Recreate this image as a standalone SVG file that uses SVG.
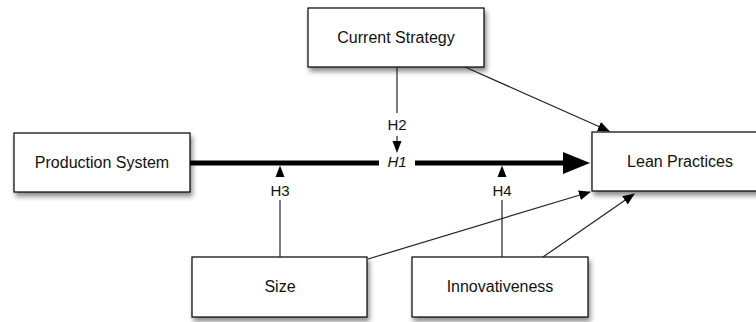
<svg xmlns="http://www.w3.org/2000/svg" width="756" height="322" viewBox="0 0 756 322">
<style>
.box{fill:#fff;stroke:#000;stroke-width:1.2;filter:url(#sh)}
.lbl{font-family:"Liberation Sans",Arial,sans-serif;font-size:16px;fill:#111;text-anchor:middle}
.h{font-family:"Liberation Sans",Arial,sans-serif;font-size:15px;fill:#111;text-anchor:middle}
.thin{stroke:#222;stroke-width:1.2;fill:none}
.head{fill:#000}
</style>
<defs>
<filter id="sh" x="-10%" y="-20%" width="130%" height="160%">
<feDropShadow dx="2" dy="4" stdDeviation="2.5" flood-color="#000" flood-opacity="0.45"/>
</filter>
<marker id="ah" markerWidth="12" markerHeight="10" refX="11" refY="5" orient="auto" markerUnits="userSpaceOnUse">
<path d="M0,0 L12,5 L0,10 Z" fill="#000"/>
</marker>
</defs>
<g id="production-system">
<rect class="box" x="14" y="133" width="176" height="59"/>
<text class="lbl" x="102" y="168">Production System</text>
</g>
<g id="current-strategy">
<rect class="box" x="308" y="8" width="176" height="59"/>
<text class="lbl" x="396" y="43">Current Strategy</text>
</g>
<g id="lean-practices">
<rect class="box" x="592" y="132" width="176" height="59"/>
<text class="lbl" x="680" y="167">Lean Practices</text>
</g>
<g id="size">
<rect class="box" x="192" y="257" width="175" height="60"/>
<text class="lbl" x="280" y="292">Size</text>
</g>
<g id="innovativeness">
<rect class="box" x="412" y="257" width="176" height="60"/>
<text class="lbl" x="500" y="292">Innovativeness</text>
</g>
<g id="connectors">
<line x1="190" y1="163" x2="379" y2="163" stroke="#000" stroke-width="5"/>
<line x1="415" y1="163" x2="566" y2="163" stroke="#000" stroke-width="5"/>
<path class="head" d="M563,152 L590,163 L563,174 Z"/>
<text class="h" x="397" y="167" font-style="italic">H1</text>
<line class="thin" x1="397" y1="67" x2="397" y2="113"/>
<text class="h" x="397" y="130">H2</text>
<line class="thin" x1="397" y1="136" x2="397" y2="142"/>
<path class="head" d="M392.5,141 L401.5,141 L397,153 Z"/>
<line class="thin" x1="280" y1="257" x2="280" y2="200"/>
<text class="h" x="280" y="196">H3</text>
<path class="head" d="M275.5,177 L284.5,177 L280,165.5 Z"/>
<line class="thin" x1="502" y1="257" x2="502" y2="200"/>
<text class="h" x="502" y="196">H4</text>
<path class="head" d="M497.5,177 L506.5,177 L502,165.5 Z"/>
<line class="thin" x1="465" y1="67" x2="609" y2="131" marker-end="url(#ah)"/>
<line class="thin" x1="368" y1="259" x2="590" y2="192" marker-end="url(#ah)"/>
<line class="thin" x1="543" y1="257" x2="634" y2="194" marker-end="url(#ah)"/>
</g>
</svg>
